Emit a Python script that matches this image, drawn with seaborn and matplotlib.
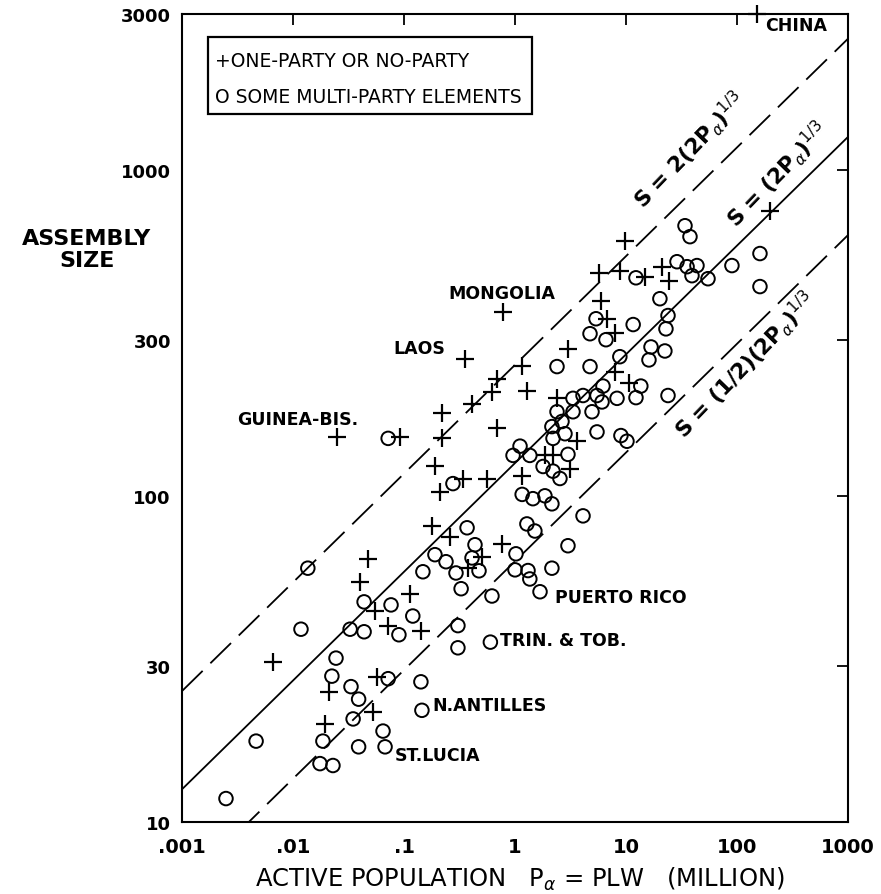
import numpy as np
import pandas as pd
import matplotlib
matplotlib.use("Agg")
import matplotlib.pyplot as plt
from matplotlib.ticker import NullLocator
from matplotlib.patches import Rectangle
import seaborn as sns

# ---------------- data ----------------
# One-party or no-party systems (crosses): active population (million), assembly size
one_party_P = [150, 0.78, 0.355, 0.025, 0.092, 1.16, 0.69, 0.62, 1.28, 0.41,
               0.22, 0.22, 0.69, 0.19, 0.21, 0.34, 0.56, 1.16, 0.18, 0.26,
               0.76, 0.113, 0.50, 0.38, 0.142, 0.072, 0.053, 0.057, 0.021, 0.0194,
               0.055, 0.040, 0.047, 0.0066, 5.7, 8.8, 14.8, 21.1, 24.4, 5.96,
               6.7, 7.96, 3.0, 7.96, 10.6, 2.39, 3.62, 1.86, 2.2, 3.13,
               9.8, 198]
one_party_S = [3000, 365, 263, 152, 152, 250, 228, 208, 210, 191,
               179, 150, 161, 123, 103, 113, 113, 115, 81, 75,
               71, 50, 65, 60, 38.5, 40, 21.7, 27.9, 25, 20,
               44.4, 54.5, 64, 31, 483, 490, 470, 504, 457, 396,
               349, 316, 282, 240, 222, 200, 147, 133, 133, 121,
               606, 748]

# Some multi-party elements (open circles)
multi_P = [0.0136, 0.0118, 0.00465, 0.00249, 0.0244, 0.0224, 0.0333, 0.039, 0.0348, 0.0186,
           0.0175, 0.0229, 0.039, 0.0647, 0.0675, 0.072, 0.142, 0.145, 0.60, 0.306,
           0.306, 0.62, 0.0327, 0.0437, 0.0437, 0.0764, 0.090, 0.12, 0.148, 0.19,
           0.239, 0.294, 0.327, 0.37, 0.436, 0.41, 0.474, 1.02, 1.0, 1.31,
           1.36, 1.16, 1.45, 1.28, 1.51, 1.68, 0.276,
           28.8, 35.5, 43.6, 39.3, 54.8, 12.3, 20.2, 23.9, 11.6, 22.9,
           5.37, 4.74, 6.6, 16.8, 22.4, 16.1, 2.39, 4.74, 8.8, 13.6,
           12.3, 8.3, 6.2, 5.48, 4.1, 3.33, 4.94, 6.08, 2.39, 2.65,
           3.33, 2.15, 2.2, 2.82, 3.0, 5.48, 9.0, 10.2, 23.9, 1.11,
           0.96, 1.36, 1.79, 2.2, 2.54, 1.86, 2.15, 4.1, 3.0, 2.15,
           0.072, 34, 37.7, 90, 161, 161]
multi_S = [60, 39, 17.7, 11.8, 31.8, 28, 26, 23.8, 20.7, 17.7,
           15.1, 14.9, 17, 19, 17, 27.5, 26.9, 22, 35.6, 40,
           34.2, 49.3, 39, 38.3, 47.3, 46.3, 37.5, 42.8, 58.5, 66,
           62.8, 58, 51.9, 79.8, 70.8, 64.5, 58.9, 66.4, 59.3, 59,
           55.6, 101, 98, 82, 78, 50.8, 109,
           522, 504, 508, 473, 463, 466, 402, 357, 335, 325,
           349, 314, 301, 286, 278, 261, 249, 249, 267, 217,
           200, 199, 217, 203, 203, 199, 181, 194, 181, 169,
           181, 163, 150, 155, 134, 157, 153, 147, 203, 142,
           133, 133, 123, 119, 113, 100, 94.5, 86.8, 70.3, 60,
           150, 673, 623, 508, 553, 438]

# Reference lines S = k (2 Pa)^(1/3), Pa in persons
line_P = [0.001, 1000]
line_factors = [2.0, 1.0, 0.5]
line_labels = ["S = 2(2P$_{\\alpha}$)$^{1/3}$",
               "S = (2P$_{\\alpha}$)$^{1/3}$",
               "S = (1/2)(2P$_{\\alpha}$)$^{1/3}$"]

x_ticks = [0.001, 0.01, 0.1, 1, 10, 100, 1000]
x_tick_labels = [".001", ".01", ".1", "1", "10", "100", "1000"]
y_ticks = [10, 30, 100, 300, 1000, 3000]
y_tick_labels = ["10", "30", "100", "300", "1000", "3000"]

country_names = ["CHINA", "MONGOLIA", "LAOS", "GUINEA-BIS.", "PUERTO RICO",
                 "TRIN. & TOB.", "N.ANTILLES", "ST.LUCIA"]

# ---------------- figure ----------------
sns.set_style("white")
plt.rcParams["font.family"] = ["DejaVu Sans"]
plt.rcParams["mathtext.fontset"] = "dejavusans"
plt.rcParams["text.color"] = "black"
plt.rcParams["axes.labelcolor"] = "black"
plt.rcParams["xtick.color"] = "black"
plt.rcParams["ytick.color"] = "black"

fig = plt.figure(figsize=(8.81, 8.95), dpi=100)
ax = fig.add_axes([182 / 881, 72 / 895, 666 / 881, 808 / 895])
ax.set_xscale("log")
ax.set_yscale("log")

# reference lines
styles = [(0, (16, 6)), "-", (0, (16, 6))]
rows = []
for k, f in enumerate(line_factors):
    for p in line_P:
        rows.append({"P": p, "S": f * (2 * p * 1e6) ** (1 / 3), "line": k})
lines_df = pd.DataFrame(rows)
for k in range(len(line_factors)):
    sub = lines_df[lines_df["line"] == k]
    sns.lineplot(data=sub, x="P", y="S", ax=ax, color="black", lw=1.3,
                 linestyle=styles[k], sort=False, estimator=None)

# points
sns.scatterplot(x=multi_P, y=multi_S, ax=ax, marker="o", s=95,
                facecolor="none", edgecolor="black", linewidth=1.4, zorder=3)
sns.scatterplot(x=one_party_P, y=one_party_S, ax=ax, marker="+", s=170,
                color="black", linewidth=1.6, zorder=3, clip_on=False)

ax.set_xlim(0.001, 1000)
ax.set_ylim(10, 3000)
ax.set_xticks(x_ticks, x_tick_labels, fontsize=14, fontweight="bold")
ax.set_yticks(y_ticks, y_tick_labels, fontsize=13, fontweight="bold")
ax.xaxis.set_minor_locator(NullLocator())
ax.yaxis.set_minor_locator(NullLocator())
ax.tick_params(direction="in", length=8, width=1.3, top=True, right=True,
               colors="black", pad=8)
ax.tick_params(axis="x", pad=11)
for sp in ax.spines.values():
    sp.set_linewidth(1.5)
    sp.set_color("black")
ax.set_xlabel("")
ax.set_ylabel("")

# axis titles
fig.text(520 / 881, 1 - 879 / 895,
         "ACTIVE POPULATION   P$_{\\alpha}$ = PLW   (MILLION)",
         ha="center", va="center", fontsize=17.5, color="black")
fig.text(87 / 881, 1 - 250 / 895, "ASSEMBLY\nSIZE", ha="center", va="center",
         fontsize=16, fontweight="bold", linespacing=1.1, color="black")

# line labels
label_pos = [(14.2, 760), (98, 665), (33.3, 150)]
for (px, py), txt in zip(label_pos, line_labels):
    ax.text(px, py, txt, rotation=46, rotation_mode="anchor", ha="left",
            va="baseline", fontsize=15.5, fontweight="bold", clip_on=True,
            color="black")

# country labels
country_pos = [(179, 2770), (0.249, 420), (0.0796, 284), (0.00313, 172),
               (2.29, 49), (0.73, 36.1), (0.182, 22.9), (0.083, 16.1)]
for (px, py), name in zip(country_pos, country_names):
    ax.text(px, py, name, ha="left", va="center", fontsize=12.5,
            fontweight="bold", color="black")

# legend box
ax.add_patch(Rectangle((0.039, 0.876), 0.4865, 0.0955, transform=ax.transAxes,
                       fill=False, edgecolor="black", lw=1.6, zorder=4))
ax.text(0.050, 0.942, "+ONE-PARTY OR NO-PARTY", transform=ax.transAxes,
        ha="left", va="center", fontsize=13.5, color="black")
ax.text(0.050, 0.8985, "O SOME MULTI-PARTY ELEMENTS", transform=ax.transAxes,
        ha="left", va="center", fontsize=13.5, color="black")

fig.savefig("out.png", dpi=100)
